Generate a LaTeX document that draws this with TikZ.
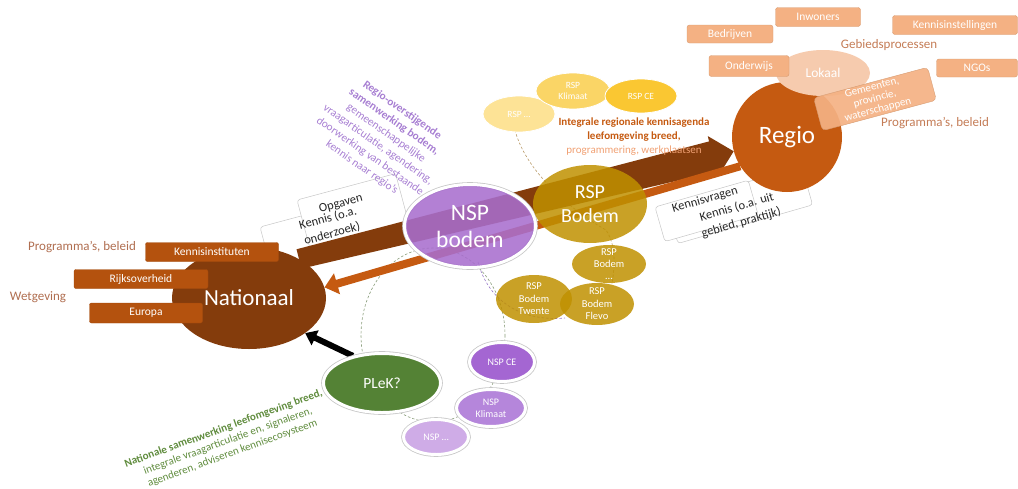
\documentclass[tikz,border=0pt]{standalone}
\usepackage{fontspec}
\setmainfont{Carlito}
\usetikzlibrary{arrows.meta,shapes.geometric,calc}
\tikzset {>=Triangle}
\pgfdeclarelayer{back}
\pgfsetlayers{back,main}

\definecolor{natbrown}{RGB}{132,60,12}
\definecolor{regioorange}{RGB}{197,90,17}
\definecolor{lokaalpeach}{RGB}{246,203,174}
\definecolor{peach}{RGB}{244,177,131}
\definecolor{rustbox}{RGB}{180,82,14}
\definecolor{nsppurple}{RGB}{168,110,206}
\definecolor{plekgreen}{RGB}{84,130,53}
\definecolor{nspce}{RGB}{164,102,210}
\definecolor{nspklimaat}{RGB}{181,134,219}
\definecolor{nspdots}{RGB}{207,172,231}
\definecolor{rspgold}{RGB}{191,144,0}
\definecolor{rspklimaat}{RGB}{250,213,102}
\definecolor{rspce}{RGB}{250,199,50}
\definecolor{rspdots}{RGB}{253,227,150}
\definecolor{lilac}{RGB}{167,126,210}
\definecolor{leafgreen}{RGB}{96,140,62}
\definecolor{palerust}{RGB}{240,160,115}
\definecolor{labelbrown}{RGB}{176,110,80}
\definecolor{labelorange}{RGB}{196,124,86}
\definecolor{inkgray}{RGB}{38,38,38}
\definecolor{ringtan}{RGB}{185,155,105}
\definecolor{ringgreen}{RGB}{135,155,120}
\definecolor{ringlilac}{RGB}{150,120,200}

\newcommand{\setfs}[2]{\fontsize{#1}{#2}\selectfont}

\tikzset{
  blob/.style={ellipse, inner sep=0pt, text=white, align=center},
  ringed/.style={preaction={draw=black!22, line width=4.6pt}, draw=white, line width=3pt},
  sat/.style={blob, inner sep=-3pt, font=\setfs{9.5}{11}},
  peachbox/.style={rectangle, rounded corners=2.5pt, fill=peach, draw=peach!88!black, line width=0.4pt, text=white, inner sep=0.5pt, font=\setfs{11.5}{13}},
  rustybox/.style={rectangle, rounded corners=2pt, fill=rustbox, draw=rustbox!90!black, line width=0.4pt, text=white, inner sep=0.5pt, minimum height=19pt, font=\setfs{11.5}{13}},
  sidelabel/.style={font=\setfs{13}{15}},
  calloutbox/.style={draw=black!22, fill=white, rounded corners=3pt, line width=0.5pt},
  callouttext/.style={text=inkgray, align=center, font=\setfs{12.5}{16}},
  ring/.style={dash pattern=on 2.5pt off 2pt, line width=0.6pt},
}

\begin{document}
\begin{tikzpicture}[x=1pt,y=-1pt]
\useasboundingbox (0,0) rectangle (1018,488);

% nationaal
\node[blob, fill=natbrown, minimum width=154pt, minimum height=102pt, font=\setfs{23}{27}] (nationaal) at (249,298) {Nationaal};
\node[rustybox, minimum width=133pt] (kennisinst) at (212,252) {Kennisinstituten};
\node[rustybox, minimum width=134pt] (rijk) at (141,279) {Rijksoverheid};
\node[rustybox, minimum width=113pt, minimum height=20pt] (europa) at (146,313) {Europa};

% regio en lokaal
\node[blob, fill=regioorange, minimum size=110pt, font=\setfs{25}{29}] (regio) at (787,137) {Regio};
\node[blob, fill=lokaalpeach, minimum width=94pt, minimum height=46pt, font=\setfs{13.5}{16}] (lokaal) at (823,73) {Lokaal};
\node[peachbox, minimum width=86pt, minimum height=18pt] (bedrijven) at (730,34) {Bedrijven};
\node[peachbox, minimum width=85pt, minimum height=19pt] (inwoners) at (818,17) {Inwoners};
\node[peachbox, minimum width=125pt, minimum height=19pt] (kennisinstel) at (955,25) {Kennisinstellingen};
\node[peachbox, minimum width=80pt, minimum height=21pt] (onderwijs) at (749,66) {Onderwijs};
\node[peachbox, minimum width=81pt, minimum height=18pt] (ngos) at (977,68) {NGOs};
\node[peachbox, fill opacity=0.92, text opacity=1, rotate=15, minimum width=118pt, minimum height=34pt, rounded corners=4pt, align=center, font=\setfs{11}{11.5}] (gemeenten) at (875,99) {Gemeenten,\\provincie,\\waterschappen};

% RSP
\node[sat, fill=rspdots, draw=white, line width=0.8pt, minimum width=72pt, minimum height=36pt] (rspdots) at (519,114) {RSP …};
\node[sat, fill=rspklimaat, draw=white, line width=0.8pt, minimum width=74pt, minimum height=36pt] (rspklimaat) at (573,91) {RSP\\Klimaat};
\node[sat, fill=rspce, draw=white, line width=0.8pt, minimum width=72pt, minimum height=34pt] (rspce) at (641,96) {RSP CE};
\node[sat, fill=rspgold, fill opacity=0.85, text opacity=1, minimum width=74pt, minimum height=38pt, font=\setfs{10.5}{12}] (rspbodemdots) at (609,264) {RSP\\Bodem\\…};
\node[sat, fill=rspgold, fill opacity=0.85, text opacity=1, minimum width=76pt, minimum height=48pt, font=\setfs{10.5}{12.5}] (rsptwente) at (534,299) {RSP\\Bodem\\Twente};
\node[sat, fill=rspgold, fill opacity=0.85, text opacity=1, minimum width=74pt, minimum height=42pt, font=\setfs{10.5}{12.5}] (rspflevo) at (597,304) {RSP\\Bodem\\Flevo};

% NSP
\node[blob, ringed, fill=nsppurple, fill opacity=0.88, text opacity=1, minimum width=131pt, minimum height=83pt, font=\setfs{23.5}{27}] (nspbodem) at (470,226) {NSP\\bodem};
\node[blob, fill=rspgold, fill opacity=0.85, text opacity=1, minimum width=114pt, minimum height=78pt, font=\setfs{20}{24}] (rspbodem) at (590,204) {RSP\\Bodem};
\node[blob, ringed, fill=plekgreen, minimum width=117pt, minimum height=59pt, font=\setfs{15.5}{18}] (plek) at (382,383) {PLeK?};
\node[sat, ringed, fill=nspce, minimum width=65pt, minimum height=39pt, font=\setfs{10}{12}] (nspce) at (502,362) {NSP CE};
\node[sat, ringed, fill=nspklimaat, minimum width=69pt, minimum height=37pt, font=\setfs{10}{12}] (nspklimaat) at (491,408) {NSP\\Klimaat};
\node[sat, ringed, fill=nspdots, minimum width=65pt, minimum height=35pt, font=\setfs{10}{12}] (nspdots) at (436,437) {NSP …};

% teksten
\node[text=lilac, rotate=-35, align=center, font=\setfs{11.3}{14}] (regiotekst) at (382,139) {\textbf{Regio-overstijgende}\\\textbf{samenwerking bodem,}\\gemeenschappelijke\\vraagarticulatie, agendering,\\doorwerking van bestaande\\kennis naar regio’s};
\node[align=center, font=\setfs{11}{14}] (agenda) at (634,137) {\textcolor{regioorange}{\textbf{Integrale regionale kennisagenda}}\\\textcolor{regioorange}{\textbf{leefomgeving breed,}}\\\textcolor{palerust}{programmering, werkplaatsen}};
\node[text=leafgreen, rotate=20, align=center, font=\setfs{11}{13}] (plektekst) at (228,441) {\textbf{Nationale samenwerking leefomgeving breed,}\\integrale vraagarticulatie en, signaleren,\\agenderen, adviseren kennisecosysteem};
\node[sidelabel, text=labelbrown] (natprog) at (82,247) {Programma’s, beleid};
\node[sidelabel, text=labelbrown] (wetgeving) at (38,297) {Wetgeving};
\node[sidelabel, text=labelorange] (gebied) at (889,45) {Gebiedsprocessen};
\node[sidelabel, text=labelorange] (regprog) at (935,123) {Programma’s, beleid};

\begin{pgfonlayer}{back}
% stippellijnen
\draw[ring, ringgreen] (433,335) ellipse [x radius=72, y radius=87];
\draw[ring, ringtan] (515,130) .. controls (525,170) and (570,210) .. (606,230) .. controls (616,245) and (615,265) .. (612,284);
\draw[ring, ringlilac] (478,262) .. controls (488,300) and (520,322) .. (565,318);

% callouts
\draw[calloutbox, rotate around={15:(260,227)}] (260,227) rectangle (372,277);
\draw[calloutbox, rotate around={15:(297,200)}] (297,200) rectangle (399,258);
\node[callouttext, rotate=15] (opgaven) at (341,204) {Opgaven};
\node[callouttext, rotate=15] (kennisnat) at (330,226) {Kennis (o.a.\\onderzoek)};
\draw[calloutbox, rotate around={16:(667,205)}] (667,205) rectangle (807,245);
\draw[calloutbox, rotate around={16:(655,207)}] (655,207) rectangle (752,243);
\node[callouttext, rotate=16] (kennisvragen) at (705,200) {Kennisvragen};
\node[callouttext, rotate=16] (kennisreg) at (739,215) {Kennis (o.a. uit\\gebied, praktijk)};

% pijlen
\coordinate (bigS) at (nationaal.38);
\coordinate (bigT) at (regio.195);
\coordinate (bigH) at ($(bigS)!0.952!(bigT)$);
\fill[natbrown] ($(bigS)!10pt!90:(bigT)$) -- ($(bigH)!15.5pt!-90:(bigS)$) -- ($(bigH)!21pt!-90:(bigS)$) -- (bigT)
  -- ($(bigH)!21pt!90:(bigS)$) -- ($(bigH)!15.5pt!90:(bigS)$) -- ($(bigS)!10pt!-90:(bigT)$) -- cycle;
\draw[regioorange, line width=8pt, -{Triangle[length=13pt,width=21pt]}] (regio.212) -- (nationaal.8);
\draw[black, line width=6pt, -{Triangle[length=11pt,width=16pt]}] (plek.137) -- (nationaal.-32);
\end{pgfonlayer}
\end{tikzpicture}
\end{document}
